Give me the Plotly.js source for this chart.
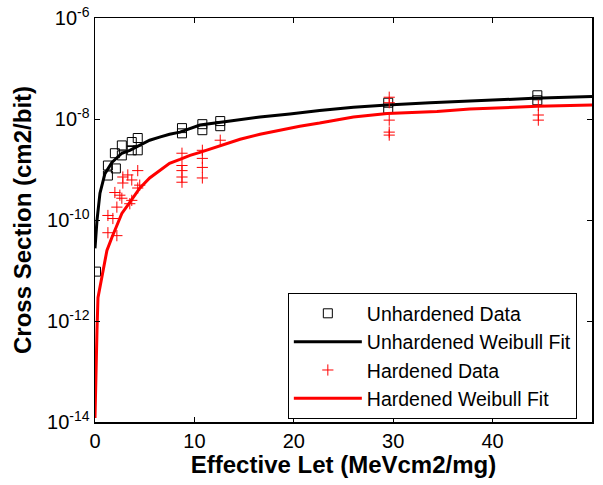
<!DOCTYPE html>
<html>
<head>
<meta charset="utf-8">
<script src="https://cdn.plot.ly/plotly-3.0.1.min.js"></script>
<style>html,body{margin:0;padding:0;background:#fff;}#chart{width:603px;height:485px;}</style>
</head>
<body>
<div id="chart"></div>
<script>
// Unhardened data (squares)
const unhardX = [0.1, 1.3, 2.1, 1.3, 2.0, 2.7, 2.7, 3.7, 3.7, 4.3, 4.3, 8.75, 8.75, 10.8, 10.8, 12.6, 12.6, 29.5, 29.5, 44.5, 44.5];
const unhardY = [9.5e-12, 1.2e-9, 1.05e-9, 7.6e-10, 2.1e-9, 1.9e-9, 3.0e-9, 3.5e-9, 2.4e-9, 4.2e-9, 2.4e-9, 6.6e-9, 5.2e-9, 7.9e-9, 6.0e-9, 9.1e-9, 7.2e-9, 2.1e-8, 1.6e-8, 2.95e-8, 2.35e-8];

// Hardened data (plus markers)
const hardX = [1.3, 1.8, 1.3, 2.2, 2.2, 2.0, 2.5, 2.7, 2.8, 3.3, 2.8, 3.7, 4.3, 4.3, 4.5, 3.7, 3.5, 8.75, 8.75, 8.75, 8.75, 8.75, 10.8, 10.8, 10.8, 10.8, 12.6, 29.6, 29.6, 29.6, 29.6, 29.6, 44.6, 44.6, 44.6];
const hardY = [1.23e-10, 1.07e-10, 5.6e-11, 4.9e-11, 1.8e-10, 3.5e-10, 3.1e-10, 2.7e-10, 7.1e-10, 7.8e-10, 5.4e-10, 6.2e-10, 9.5e-10, 4.3e-10, 4.9e-10, 2.45e-10, 2.1e-10, 2.1e-9, 1.2e-9, 9.5e-10, 7.1e-10, 5.6e-10, 2.4e-9, 1.66e-9, 1.1e-9, 6.8e-10, 3.8e-9, 2.7e-8, 2.1e-8, 9.5e-9, 5.5e-9, 4.8e-9, 1.86e-8, 1.2e-8, 9.5e-9];

// Unhardened Weibull fit
const unhardFitX = [0, 0.2, 0.5, 1.0, 1.7, 2.7, 3.5, 4.5, 5.5, 6.5, 7.5, 8.55, 10.56, 13.6, 16.6, 19.6, 22.6, 26.0, 29.4, 33.7, 37.0, 40.4, 44.1, 50];
const unhardFitY = [2.75e-11, 9.8e-11, 3.4e-10, 8.3e-10, 1.38e-9, 2.1e-9, 2.4e-9, 3.0e-9, 3.8e-9, 4.37e-9, 5.0e-9, 5.5e-9, 7.6e-9, 9.1e-9, 1.1e-8, 1.26e-8, 1.48e-8, 1.7e-8, 1.9e-8, 2.1e-8, 2.24e-8, 2.4e-8, 2.57e-8, 2.8e-8];

// Hardened Weibull fit
const hardFitX = [0, 0.1, 0.2, 0.3, 0.7, 1.2, 1.7, 2.7, 3.5, 4.5, 5.5, 6.5, 7.5, 8.55, 9.56, 10.56, 12.58, 14.6, 16.6, 18.6, 20.6, 22.6, 26.0, 29.4, 34.4, 37.7, 41.0, 44.5, 50];
const hardFitY = [1.2e-14, 1.4e-13, 6.5e-13, 2.9e-12, 7.2e-12, 2.5e-11, 4.5e-11, 1.35e-10, 2.24e-10, 4.27e-10, 6.8e-10, 9.5e-10, 1.32e-9, 1.58e-9, 1.9e-9, 2.19e-9, 3.0e-9, 3.98e-9, 5.0e-9, 6.0e-9, 7.2e-9, 8.3e-9, 1.1e-8, 1.28e-8, 1.41e-8, 1.58e-8, 1.7e-8, 1.78e-8, 1.9e-8];

// Axis ticks
const xTicks = [0, 10, 20, 30, 40, 50];
const yTickVals = [1e-14, 1e-12, 1e-10, 1e-8, 1e-6];
const yTickText = ['10<sup>-14</sup>', '10<sup>-12</sup>', '10<sup>-10</sup>', '10<sup>-8</sup>', '10<sup>-6</sup>'];

const FONT = 'Arial, "Liberation Sans", sans-serif';

const traces = [
  {x: unhardX, y: unhardY, mode: 'markers', type: 'scatter', name: 'Unhardened Data',
   marker: {symbol: 'square-open', size: 9, color: '#000', line: {width: 1, color: '#000'}}},
  {x: unhardFitX, y: unhardFitY, mode: 'lines', type: 'scatter', name: 'Unhardened Weibull Fit',
   line: {color: '#000', width: 3}},
  {x: hardX, y: hardY, mode: 'markers', type: 'scatter', name: 'Hardened Data',
   marker: {symbol: 'cross-thin-open', size: 8, color: '#ff0000', line: {width: 1, color: '#ff0000'}}},
  {x: hardFitX, y: hardFitY, mode: 'lines', type: 'scatter', name: 'Hardened Weibull Fit',
   line: {color: '#ff0000', width: 3}}
];

const layout = {
  width: 603, height: 485,
  margin: {l: 95, r: 11, t: 18, b: 63},
  paper_bgcolor: '#fff', plot_bgcolor: '#fff',
  font: {family: FONT, color: '#000', size: 20},
  showlegend: true,
  legend: {
    x: 0.388, y: 0.319, xanchor: 'left', yanchor: 'top',
    bordercolor: '#000', borderwidth: 1, bgcolor: '#fff',
    font: {family: FONT, size: 19.5, color: '#000'},
    itemwidth: 68
  },
  xaxis: {
    range: [0, 50], tickvals: xTicks, ticks: 'inside', ticklen: 5, tickcolor: '#000',
    showline: true, linecolor: '#000', linewidth: 1.5, mirror: 'ticks',
    showgrid: false, zeroline: false,
    tickfont: {family: FONT, size: 20, color: '#000'},
    title: {text: '<b>Effective Let (MeVcm2/mg)</b>', font: {family: FONT, size: 24, color: '#000'}, standoff: 4}
  },
  yaxis: {
    type: 'log', range: [-14, -6], tickvals: yTickVals, ticktext: yTickText,
    ticks: 'inside', ticklen: 5, tickcolor: '#000',
    showline: true, linecolor: '#000', linewidth: 1.5, mirror: 'ticks',
    showgrid: false, zeroline: false,
    tickfont: {family: FONT, size: 20, color: '#000'},
    title: {text: '<b>Cross Section (cm2/bit)</b>', font: {family: FONT, size: 24, color: '#000'}, standoff: 8}
  }
};

Plotly.newPlot('chart', traces, layout, {displayModeBar: false, staticPlot: true});
</script>
</body>
</html>
